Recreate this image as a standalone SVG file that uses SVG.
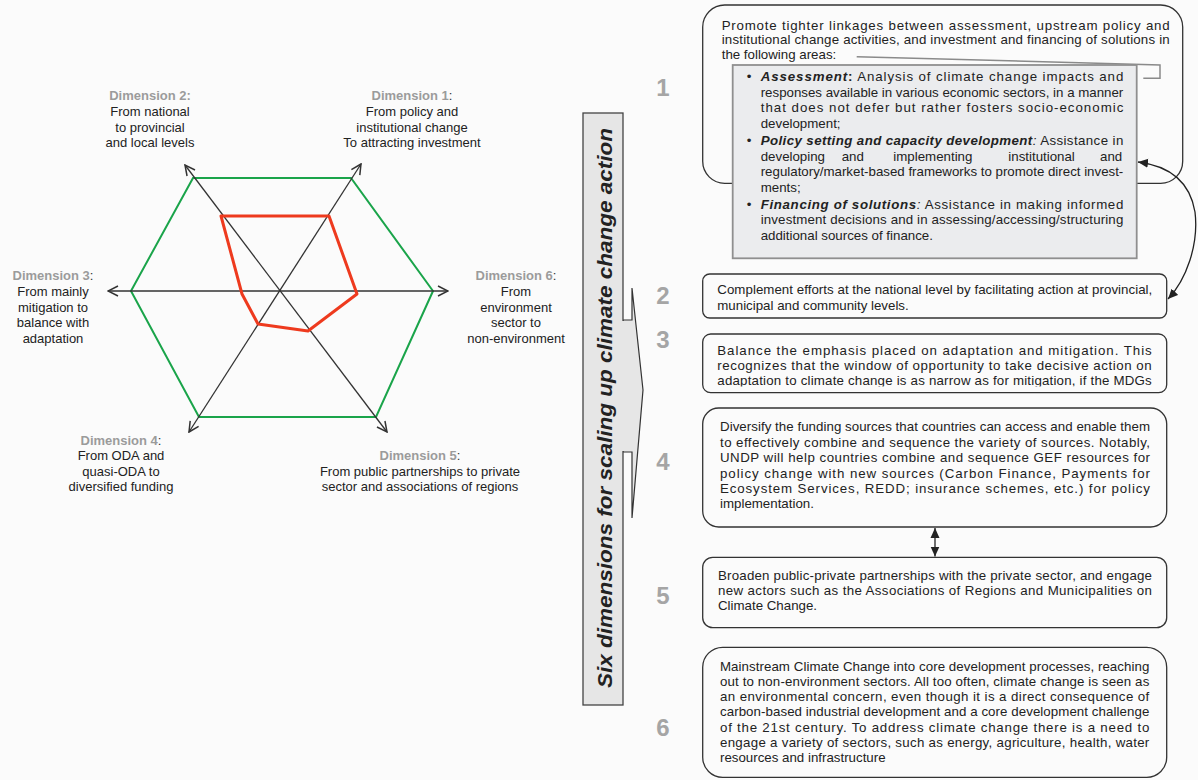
<svg xmlns="http://www.w3.org/2000/svg" width="1198" height="780" viewBox="0 0 1198 780">
<style>
.lbl{font-family:"Liberation Sans",Arial,sans-serif;font-size:13px;fill:#222;text-anchor:middle}
.dim{font-weight:bold;fill:#9b9b9b}
.col{fill:#333}
.bt{font-family:"Liberation Sans",Arial,sans-serif;font-size:13.3px;fill:#222}
.bi{font-weight:bold;font-style:italic}
.num{font-family:"Liberation Sans",Arial,sans-serif;font-size:24px;font-weight:bold;fill:#a5a5a5;text-anchor:middle}
.box{fill:none;stroke:#333;stroke-width:1.3}
.axis{fill:none;stroke:#333;stroke-width:1.3;marker-start:url(#open);marker-end:url(#open)}
.con{fill:none;stroke:#222;stroke-width:1.3}
</style>
<defs>
<marker id="open" viewBox="0 0 12 12" refX="11" refY="6" markerWidth="12" markerHeight="12" markerUnits="userSpaceOnUse" orient="auto-start-reverse">
<path d="M1,1 L11,6 L1,11" fill="none" stroke="#333" stroke-width="1.5"/>
</marker>
<marker id="ah" viewBox="0 0 10 10" refX="10" refY="5" markerWidth="10" markerHeight="10" markerUnits="userSpaceOnUse" orient="auto-start-reverse">
<path d="M0,0.5 L10,5 L0,9.5 z" fill="#222"/>
</marker>
<clipPath id="clip3"><rect x="700" y="330" width="470" height="56.5"/></clipPath>
</defs>
<rect width="1198" height="780" fill="#fbfbfb"/>

<g id="radar">
<polygon points="193,178 351,178 433,291 376,417 199,417 131,291" fill="none" stroke="#1aa44a" stroke-width="2"/>
<line class="axis" x1="108" y1="291" x2="448" y2="291"/>
<line class="axis" x1="185" y1="165" x2="387" y2="432"/>
<line class="axis" x1="189" y1="432" x2="361" y2="164"/>
<polygon points="221,216 329,216 357,294 308,331 258,324 242,294" fill="none" stroke="#ee3a1e" stroke-width="3" stroke-linejoin="round"/>
</g>

<g id="dim1">
<text class="lbl" x="412" y="100"><tspan class="dim">Dimension 1</tspan><tspan class="col">:</tspan></text>
<text class="lbl" x="412" y="116">From policy and</text>
<text class="lbl" x="412" y="131.5">institutional change</text>
<text class="lbl" x="412" y="147">To attracting investment</text>
</g>
<g id="dim2">
<text class="lbl dim" x="150" y="100">Dimension 2:</text>
<text class="lbl" x="150" y="116">From national</text>
<text class="lbl" x="150" y="131.5">to provincial</text>
<text class="lbl" x="150" y="147">and local levels</text>
</g>
<g id="dim3">
<text class="lbl" x="53" y="280"><tspan class="dim">Dimension 3</tspan><tspan class="col">:</tspan></text>
<text class="lbl" x="53" y="296">From mainly</text>
<text class="lbl" x="53" y="311.5">mitigation to</text>
<text class="lbl" x="53" y="327">balance with</text>
<text class="lbl" x="53" y="342.5">adaptation</text>
</g>
<g id="dim6">
<text class="lbl" x="516" y="280"><tspan class="dim">Dimension 6</tspan><tspan class="col">:</tspan></text>
<text class="lbl" x="516" y="296">From</text>
<text class="lbl" x="516" y="311.5">environment</text>
<text class="lbl" x="516" y="327">sector to</text>
<text class="lbl" x="516" y="342.5">non-environment</text>
</g>
<g id="dim4">
<text class="lbl" x="121" y="445"><tspan class="dim">Dimension 4</tspan><tspan class="col">:</tspan></text>
<text class="lbl" x="121" y="460.3">From ODA and</text>
<text class="lbl" x="121" y="475.6">quasi-ODA to</text>
<text class="lbl" x="121" y="491">diversified funding</text>
</g>
<g id="dim5">
<text class="lbl" x="420" y="460"><tspan class="dim">Dimension 5</tspan><tspan class="col">:</tspan></text>
<text class="lbl" x="420" y="475.5">From public partnerships to private</text>
<text class="lbl" x="420" y="491">sector and associations of regions</text>
</g>

<g id="banner">
<polygon points="623,320 632,320 632,288 643,390 632,518 632,452 623,452" fill="#e6e6e6" stroke="#333" stroke-width="1.2"/>
<rect x="583" y="113" width="40" height="592" fill="#e6e6e6" stroke="#444" stroke-width="1.3"/>
<line x1="623" y1="321" x2="623" y2="451" stroke="#e6e6e6" stroke-width="2"/>
<text transform="translate(612,408) rotate(-90)" text-anchor="middle" font-family="Liberation Sans, Arial, sans-serif" font-size="21" font-weight="bold" font-style="italic" fill="#222" textLength="560" lengthAdjust="spacingAndGlyphs">Six dimensions for scaling up climate change action</text>
</g>

<g id="numbers">
<text class="num" x="663" y="96">1</text>
<text class="num" x="663" y="304">2</text>
<text class="num" x="663" y="348">3</text>
<text class="num" x="663" y="470">4</text>
<text class="num" x="663" y="604">5</text>
<text class="num" x="663" y="736">6</text>
</g>

<g id="box1">
<rect class="box" x="702.7" y="5" width="480" height="178.3" rx="22"/>
<text class="bt" x="721.7" y="29.5" textLength="448" lengthAdjust="spacing">Promote tighter linkages between assessment, upstream policy and</text>
<text class="bt" x="721.7" y="44" textLength="448" lengthAdjust="spacing">institutional change activities, and investment and financing of solutions in</text>
<text class="bt" x="721.7" y="58.5">the following areas:</text>
<polyline points="856.7,56.7 1160,65 1160,78.3 1143.3,78.3" fill="none" stroke="#8a8a8a" stroke-width="1.5"/>
</g>

<g id="box1-detail">
<rect x="732.7" y="65" width="404" height="193.3" fill="#ebecee" stroke="#8f8f8f" stroke-width="1.8"/>
<text class="bt" x="746.7" y="81">•</text>
<text class="bt" x="760.7" y="81" textLength="362.6" lengthAdjust="spacing"><tspan class="bi">Assessment</tspan><tspan font-weight="bold">:</tspan> Analysis of  climate change impacts and</text>
<text class="bt" x="760.7" y="96.5" textLength="362.6" lengthAdjust="spacing">responses available in various economic sectors, in a manner</text>
<text class="bt" x="760.7" y="112" textLength="362.6" lengthAdjust="spacing">that does not defer but rather fosters socio-economic</text>
<text class="bt" x="760.7" y="127.5">development;</text>
<text class="bt" x="746.7" y="145">•</text>
<text class="bt" x="760.7" y="145" textLength="362.6" lengthAdjust="spacing"><tspan class="bi">Policy setting and capacity development</tspan><tspan font-style="italic">:</tspan> Assistance in</text>
<text class="bt" y="160.5"><tspan x="760.7">developing</tspan><tspan x="841.7">and</tspan><tspan x="893.3">implementing</tspan><tspan x="1008.3">institutional</tspan><tspan x="1100">and</tspan></text>
<text class="bt" x="760.7" y="176" textLength="362.6" lengthAdjust="spacing">regulatory/market-based frameworks to promote direct invest-</text>
<text class="bt" x="760.7" y="191.5">ments;</text>
<text class="bt" x="746.7" y="208.5">•</text>
<text class="bt" x="760.7" y="208.5" textLength="362.6" lengthAdjust="spacing"><tspan class="bi">Financing of solutions</tspan><tspan font-style="italic">:</tspan> Assistance in making informed</text>
<text class="bt" x="760.7" y="224" textLength="362.6" lengthAdjust="spacing">investment decisions and in assessing/accessing/structuring</text>
<text class="bt" x="760.7" y="239.5">additional sources of finance.</text>
</g>

<g id="box2">
<rect class="box" x="702.7" y="274" width="464" height="44" rx="7"/>
<text class="bt" x="717.3" y="293.5" textLength="435" lengthAdjust="spacing">Complement efforts at the national level by facilitating action at provincial,</text>
<text class="bt" x="717.3" y="309.5">municipal and community levels.</text>
</g>

<g id="box3">
<rect class="box" x="702.7" y="334" width="464" height="58.7" rx="8"/>
<g clip-path="url(#clip3)">
<text class="bt" x="717.3" y="354.5" textLength="434.4" lengthAdjust="spacing">Balance the emphasis placed on adaptation and mitigation. This</text>
<text class="bt" x="717.3" y="369.8" textLength="434.4" lengthAdjust="spacing">recognizes that the window of opportunity to take decisive action on</text>
<text class="bt" x="717.3" y="385.3" textLength="434.4" lengthAdjust="spacing">adaptation to climate change is as narrow as for mitigation, if the MDGs</text>
</g>
</g>

<g id="box4">
<rect class="box" x="702.7" y="408" width="464" height="119" rx="16"/>
<text class="bt" x="720" y="431.2" textLength="430" lengthAdjust="spacing">Diversify the funding sources that countries can access and enable them</text>
<text class="bt" x="720" y="446.7" textLength="430" lengthAdjust="spacing">to effectively combine and sequence the variety of sources. Notably,</text>
<text class="bt" x="720" y="462.2" textLength="430" lengthAdjust="spacing">UNDP will help countries combine and sequence GEF resources for</text>
<text class="bt" x="720" y="477.7" textLength="430" lengthAdjust="spacing">policy change with new sources (Carbon Finance, Payments for</text>
<text class="bt" x="720" y="493.2" textLength="430" lengthAdjust="spacing">Ecosystem Services, REDD; insurance schemes, etc.) for policy</text>
<text class="bt" x="720" y="508.2">implementation.</text>
</g>

<g id="box5">
<rect class="box" x="702.7" y="557.3" width="464" height="70.4" rx="10"/>
<text class="bt" x="718" y="579.5" textLength="434" lengthAdjust="spacing">Broaden public-private partnerships with the private sector, and engage</text>
<text class="bt" x="718" y="594.5" textLength="434" lengthAdjust="spacing">new actors such as the Associations of Regions and Municipalities on</text>
<text class="bt" x="718" y="609.5">Climate Change.</text>
</g>

<g id="box6">
<rect class="box" x="702.7" y="647.3" width="464" height="130" rx="20"/>
<text class="bt" x="720" y="671" textLength="429.3" lengthAdjust="spacing">Mainstream Climate Change into core development processes, reaching</text>
<text class="bt" x="720" y="686" textLength="429.3" lengthAdjust="spacing">out to non-environment sectors. All too often, climate change is seen as</text>
<text class="bt" x="720" y="701.2" textLength="429.3" lengthAdjust="spacing">an environmental concern, even though it is a direct consequence of</text>
<text class="bt" x="720" y="716.4" textLength="429.3" lengthAdjust="spacing">carbon-based industrial development and a core development challenge</text>
<text class="bt" x="720" y="731.6" textLength="429.3" lengthAdjust="spacing">of the 21st century. To address climate change there is a need to</text>
<text class="bt" x="720" y="746.8" textLength="429.3" lengthAdjust="spacing">engage a variety of sectors, such as energy, agriculture, health, water</text>
<text class="bt" x="720" y="762">resources and infrastructure</text>
</g>

<g id="connectors">
<path class="con" d="M1138,162 C1170,166 1190,182 1195,212 C1199,245 1186,280 1168,299" marker-start="url(#ah)" marker-end="url(#ah)"/>
<line class="con" x1="935" y1="528" x2="935" y2="556.5" marker-start="url(#ah)" marker-end="url(#ah)"/>
</g>
</svg>
